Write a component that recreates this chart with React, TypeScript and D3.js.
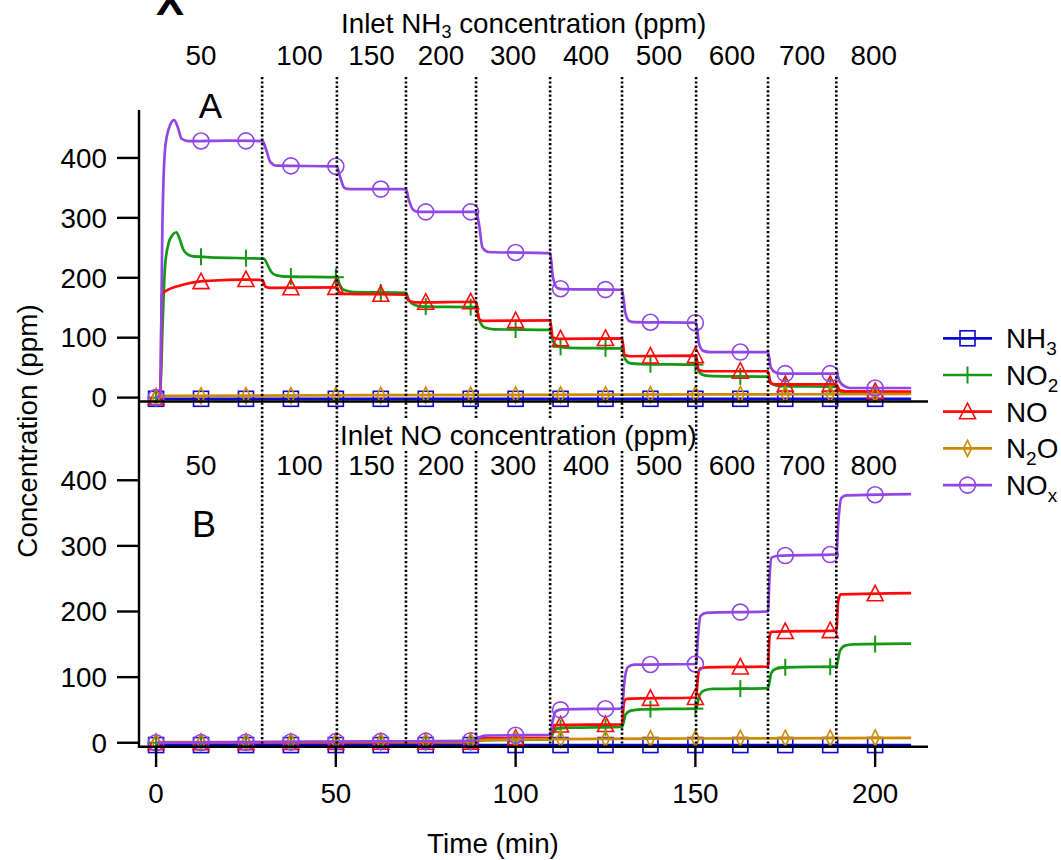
import React from "react";
import * as d3 from "d3";

type Pt = [number, number];

// ---------- data ----------
const dividerTimes = [29.5, 50.3, 69.5, 89, 109.6, 129.6, 150.2, 170.2, 189.2];
const stepStart = -4.5;
const stepEnd = 210;
const inletLabels = ["50", "100", "150", "200", "300", "400", "500", "600", "700", "800"];
const markerTimes = [0, 12.5, 25, 37.5, 50, 62.5, 75, 87.5, 100, 112.5, 125, 137.5, 150, 162.5, 175, 187.5, 200];
const yTicks = [0, 100, 200, 300, 400];
const xTicks = [0, 50, 100, 150, 200];

// Panel A (inlet NH3 varied)
const aNH3: Pt[] = [[0, -2], [210, -2]];
const aNO2: Pt[] = [[0, 0], [1.1, 2], [1.8, 120], [2.5, 220], [3.5, 258], [4.5, 271], [5.6, 276], [6.5, 266], [7.5, 248], [8.5, 240], [10, 236], [15, 234], [30, 232], [30.8, 224], [32, 210], [33.5, 204], [36, 202], [50.3, 201], [51.1, 188], [52.5, 179], [55, 176], [69.5, 175], [70.3, 163], [71.8, 155], [74, 152], [89, 151], [89.9, 130], [91.4, 117], [94, 114], [109.6, 113], [110.5, 93], [112, 85], [115, 83], [129.6, 82], [130.5, 64], [132, 57], [135, 56], [150.2, 55], [151.1, 42], [152.6, 37], [155, 36], [170.2, 35], [171.1, 24], [172.6, 20], [175, 19], [189.2, 18], [190.2, 11], [192, 8], [210, 7]];
const aNO: Pt[] = [[0, 0], [1.2, 2], [1.6, 172], [3, 179], [6, 186], [10, 192], [15, 195], [25, 197], [29.6, 196], [30.4, 185], [32, 183], [50.3, 184], [50.9, 176], [52.5, 173], [69.5, 172], [70.2, 162], [72, 159], [89, 160], [89.8, 131], [91, 128], [109.6, 129], [110.3, 101], [112, 98], [129.6, 99], [130.3, 71], [132, 69], [150.2, 70], [150.9, 46], [152.5, 44], [170.2, 44], [170.9, 24], [172.5, 22], [189.2, 22], [190.2, 12], [192, 10.5], [210, 10]];
const aN2O: Pt[] = [[0, 1], [3, 3], [100, 4.5], [210, 6]];
const aNOx: Pt[] = [[0, 0], [1.1, 3], [1.8, 300], [2.5, 415], [3.5, 448], [5, 463], [6, 452], [7.1, 432], [9, 428], [20, 429], [29.6, 428], [30.6, 414], [31.8, 393], [33.5, 387], [50.3, 386], [51.1, 370], [52.4, 350], [54, 348], [69.5, 348], [70.3, 330], [71.6, 313], [73, 310], [89, 310], [89.8, 290], [90.8, 250], [92.5, 243], [109.6, 241], [110.4, 200], [111.6, 183], [113, 181], [129.6, 180], [130.5, 142], [131.6, 128], [133, 126], [150.2, 125], [151, 90], [152.2, 78], [154, 76], [170.2, 76], [171, 50], [172.3, 42], [174, 40], [189.2, 40], [190.2, 26], [191.8, 18], [193, 16], [210, 16]];

// Panel B (inlet NO varied)
const bNH3: Pt[] = [[0, -3.5], [210, -3.5]];
const bNO2: Pt[] = [[0, 0], [88, 1], [89.8, 3], [92, 4], [109.6, 5], [110.6, 17], [112, 22], [115, 23], [129.6, 24], [130.6, 43], [132, 49], [135, 51], [150.2, 52], [151.2, 73], [152.6, 80], [155, 82], [170.2, 83], [171.1, 106], [172.5, 113], [175, 115], [189.2, 116], [190.2, 140], [191.6, 148], [194, 150], [210, 151]];
const bNO: Pt[] = [[0, 0], [88, 1], [89.5, 4], [91, 7], [109.6, 7], [110.1, 22], [110.8, 27], [129.6, 28], [130.1, 60], [130.8, 67], [150.2, 69], [150.7, 100], [151.3, 113], [153, 115], [170.2, 116], [170.6, 160], [171.1, 169], [189.2, 171], [189.7, 215], [190.4, 226], [210, 228]];
const bN2O: Pt[] = [[0, 1], [88, 2], [92, 4.5], [110, 5.5], [150, 6.5], [210, 7.5]];
const bNOx: Pt[] = [[0, 0], [30, 1], [60, 2], [88, 3], [89.5, 7], [91.5, 11], [109.6, 12], [110.2, 30], [111.2, 48], [113, 51], [129.6, 52], [130.2, 90], [131.2, 115], [133, 119], [150.2, 120], [150.7, 160], [151.4, 193], [153, 198], [170.2, 200], [170.6, 250], [171.2, 282], [173, 285], [189.2, 287], [189.8, 340], [190.6, 373], [192, 377], [210, 379]];

const seriesNames = ["NH3", "NO2", "NO", "N2O", "NOx"];
const seriesColors = ["#0a0ad2", "#159815", "#ff0a0a", "#cd8a00", "#9146e6"];
const seriesMarkers = ["square", "plus", "triangle", "diamond", "circle"];
const legendParts: [string, string, string][] = [["NH", "3", ""], ["NO", "2", ""], ["NO", "", ""], ["N", "2", "O"], ["NO", "x", ""]];

const panelA = [aNH3, aNO2, aNO, aN2O, aNOx];
const panelB = [bNH3, bNO2, bNO, bN2O, bNOx];

// ---------- layout ----------
const W = 1061;
const H = 860;
const FONT = "'Liberation Sans', Arial, Helvetica, sans-serif";
const FS = 27.8;
const x = d3.scaleLinear().domain([-4.75, 214.7]).range([139, 928]);
const yA = d3.scaleLinear().domain([-6.5, 480]).range([401.5, 110]);
const yB = d3.scaleLinear().domain([-6, 520]).range([746.7, 401.5]);

function interp(data: Pt[], t: number): number {
  for (let i = 1; i < data.length; i++) {
    const [t0, v0] = data[i - 1];
    const [t1, v1] = data[i];
    if (t <= t1) {
      if (t1 === t0) return v1;
      return v0 + ((t - t0) / (t1 - t0)) * (v1 - v0);
    }
  }
  return data[data.length - 1][1];
}

function Marker({ kind, cx, cy, color }: { kind: string; cx: number; cy: number; color: string }) {
  const sw = 1.6;
  if (kind === "square")
    return <rect x={cx - 7.5} y={cy - 7.5} width={15} height={15} fill="none" stroke={color} strokeWidth={sw} />;
  if (kind === "plus")
    return (
      <g stroke={color} strokeWidth={sw + 0.4}>
        <line x1={cx} x2={cx} y1={cy - 8.5} y2={cy + 8.5} />
        <line x1={cx - 8} x2={cx + 8} y1={cy} y2={cy} />
      </g>
    );
  if (kind === "triangle")
    return <path d={`M${cx},${cy - 8.5}L${cx + 8},${cy + 7}L${cx - 8},${cy + 7}Z`} fill="none" stroke={color} strokeWidth={sw} />;
  if (kind === "diamond")
    return <path d={`M${cx},${cy - 8}L${cx + 4},${cy}L${cx},${cy + 8}L${cx - 4},${cy}Z`} fill="none" stroke={color} strokeWidth={sw} />;
  return <circle cx={cx} cy={cy} r={8} fill="none" stroke={color} strokeWidth={sw} />;
}

function Panel({ data, y }: { data: Pt[][]; y: d3.ScaleLinear<number, number> }) {
  const line = d3
    .line<Pt>()
    .x((d) => x(d[0]))
    .y((d) => y(d[1]))
    .curve(d3.curveMonotoneX);
  return (
    <g>
      {data.map((s, i) => (
        <g key={i}>
          <path d={line(s) || ""} fill="none" stroke={seriesColors[i]} strokeWidth={2.7} strokeLinejoin="round" />
          {markerTimes.map((t) => (
            <Marker key={t} kind={seriesMarkers[i]} cx={x(t)} cy={y(interp(s, t))} color={seriesColors[i]} />
          ))}
        </g>
      ))}
    </g>
  );
}

function centers(): number[] {
  const b = [stepStart, ...dividerTimes, stepEnd];
  return inletLabels.map((_, i) => (b[i] + b[i + 1]) / 2);
}

export default function App() {
  const labelCenters = centers();
  return (
    <svg
      width={W}
      height={H}
      style={{ position: "absolute", left: 0, top: 0, background: "#fff" }}
      fontFamily={FONT}
    >
      <rect x={0} y={0} width={W} height={H} fill="#fff" />
      {/* cut-off panel letter at very top (as in the reference) */}
      <text x={170} y={15} fontSize={42} fontWeight="bold" textAnchor="middle" fill="#000">X</text>

      {/* top title */}
      <text x={341} y={33} fontSize={FS} fill="#000">
        Inlet NH<tspan fontSize={18} dy={4.5}>3</tspan>
        <tspan dy={-4.5}> concentration (ppm)</tspan>
      </text>
      {labelCenters.map((c, i) => (
        <text key={"a" + i} x={x(c)} y={65} fontSize={FS} textAnchor="middle" fill="#000">{inletLabels[i]}</text>
      ))}

      <Panel data={panelA} y={yA} />
      <Panel data={panelB} y={yB} />

      {/* dotted dividers */}
      {dividerTimes.map((t) => (
        <line key={t} x1={x(t)} x2={x(t)} y1={77} y2={749} stroke="#000" strokeWidth={2.6} strokeDasharray="2.2,2.2" />
      ))}

      {/* Panel B title with opaque background */}
      <rect x={340} y={419} width={355} height={31} fill="#fff" />
      <text x={340} y={445} fontSize={FS} fill="#000">Inlet NO concentration (ppm)</text>
      {labelCenters.map((c, i) => (
        <text key={"b" + i} x={x(c)} y={475} fontSize={FS} textAnchor="middle" fill="#000">{inletLabels[i]}</text>
      ))}

      {/* panel letters */}
      <text x={210.5} y={118} fontSize={35} textAnchor="middle" fill="#000">A</text>
      <text x={204} y={537} fontSize={36} textAnchor="middle" fill="#000">B</text>

      {/* axes */}
      <line x1={139} x2={139} y1={110} y2={748} stroke="#000" strokeWidth={2.4} />
      <line x1={138} x2={928} y1={401.5} y2={401.5} stroke="#000" strokeWidth={2.4} />
      <line x1={138} x2={928} y1={746.7} y2={746.7} stroke="#000" strokeWidth={2.4} />
      {yTicks.map((v) => (
        <g key={"ya" + v}>
          <line x1={117} x2={139} y1={yA(v)} y2={yA(v)} stroke="#000" strokeWidth={2.4} />
          <text x={107} y={yA(v) + 9.8} fontSize={FS} textAnchor="end" fill="#000">{v}</text>
        </g>
      ))}
      {yTicks.map((v) => (
        <g key={"yb" + v}>
          <line x1={117} x2={139} y1={yB(v)} y2={yB(v)} stroke="#000" strokeWidth={2.4} />
          <text x={107} y={yB(v) + 9.8} fontSize={FS} textAnchor="end" fill="#000">{v}</text>
        </g>
      ))}
      {xTicks.map((v) => (
        <g key={"x" + v}>
          <line x1={x(v)} x2={x(v)} y1={746.7} y2={767} stroke="#000" strokeWidth={2.4} />
          <text x={x(v)} y={803} fontSize={FS} textAnchor="middle" fill="#000">{v}</text>
        </g>
      ))}
      <text x={493} y={853} fontSize={FS} textAnchor="middle" fill="#000">Time (min)</text>
      <text transform="translate(37,431) rotate(-90)" fontSize={FS} textAnchor="middle" fill="#000">Concentration (ppm)</text>

      {/* legend */}
      {seriesNames.map((n, i) => {
        const ly = 338.3 + i * 36.7;
        const [p1, sub, p2] = legendParts[i];
        return (
          <g key={n}>
            <line x1={943} x2={992} y1={ly} y2={ly} stroke={seriesColors[i]} strokeWidth={2.7} />
            <Marker kind={seriesMarkers[i]} cx={967.5} cy={ly} color={seriesColors[i]} />
            <text x={1006} y={ly + 9.8} fontSize={FS} fill="#000">
              {p1}
              {sub && <tspan fontSize={19} dy={7}>{sub}</tspan>}
              {p2 && <tspan dy={-7}>{p2}</tspan>}
            </text>
          </g>
        );
      })}
    </svg>
  );
}
